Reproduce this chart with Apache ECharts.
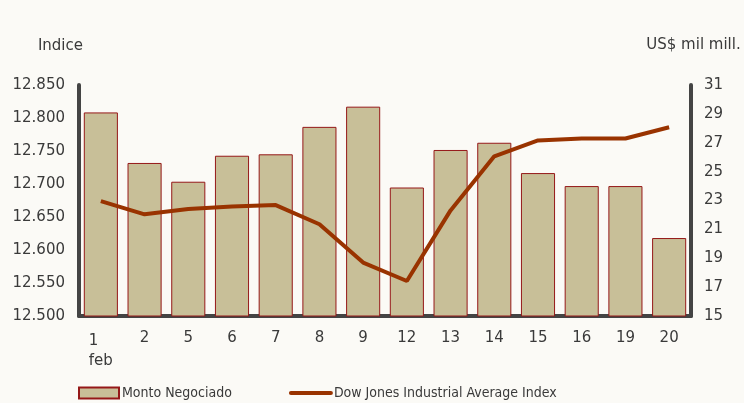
<!DOCTYPE html>
<html>
<head>
<meta charset="utf-8">
<script src="https://cdn.jsdelivr.net/npm/echarts@6/dist/echarts.min.js"></script>
<style>
  html, body { margin: 0; padding: 0; background: #fbfaf6; }
  #chart { width: 744px; height: 403px; }
</style>
</head>
<body>
<div id="chart"></div>
<script>
// days of February
const days = ["1", "2", "5", "6", "7", "8", "9", "12", "13", "14", "15", "16", "19", "20"];
// Monto Negociado, US$ mil mill. (right axis)
const monto = [29.1, 25.6, 24.3, 26.1, 26.2, 28.1, 29.5, 23.9, 26.5, 27.0, 24.9, 24.0, 24.0, 20.4];
// Dow Jones Industrial Average Index (left axis)
const dowJones = [12674, 12654, 12662, 12666, 12668, 12639, 12581, 12553, 12660, 12742, 12766, 12769, 12769, 12786];

const axisColor = "#444444";
const textColor = "#3a3a3a";

const chart = echarts.init(document.getElementById("chart"));

chart.setOption({
  backgroundColor: "#fbfaf6",
  animation: false,
  textStyle: { fontFamily: "DejaVu Sans" },
  legend: {
    left: 78,
    top: 386,
    padding: 0,
    itemWidth: 40,
    itemHeight: 11,
    itemGap: 57,
    textStyle: {
      fontFamily: "'Liberation Sans Narrow', 'Arial Narrow', 'DejaVu Sans Condensed', sans-serif",
      fontSize: 14,
      color: textColor,
      padding: [0, 0, 0, -2],
    },
    data: [
      { name: "Monto Negociado", icon: "rect" },
      {
        name: "Dow Jones Industrial Average Index",
        itemStyle: { opacity: 0 },
        lineStyle: { width: 4, cap: "round" },
      },
    ],
  },
  grid: {
    left: 79,
    right: 53,
    top: 85,
    bottom: 87,
  },
  xAxis: {
    type: "category",
    data: days,
    axisLine: { lineStyle: { color: axisColor, width: 4 } },
    axisTick: { show: false },
    axisLabel: {
      interval: 0,
      margin: 15,
      fontSize: 15,
      color: textColor,
      formatter: (v) => (v === "1" ? "{l|1}\n{c|feb}" : v),
      rich: {
        l: { align: "left", fontSize: 15, color: textColor, lineHeight: 20 },
        c: { align: "center", fontSize: 15, color: textColor, lineHeight: 20 },
      },
    },
  },
  yAxis: [
    {
      type: "value",
      position: "left",
      min: 12500,
      max: 12850,
      interval: 50,
      name: "Indice",
      nameLocation: "end",
      nameGap: 31,
      nameTextStyle: { fontSize: 15, color: textColor, align: "right", padding: [0, -4, 0, 0] },
      axisLine: { show: true, lineStyle: { color: axisColor, width: 4, cap: "round" } },
      axisTick: { show: false },
      splitLine: { show: false },
      axisLabel: {
        margin: 14,
        fontSize: 15,
        color: textColor,
        formatter: (v) => (v / 1000).toFixed(3),
      },
    },
    {
      type: "value",
      position: "right",
      min: 15,
      max: 31,
      interval: 2,
      name: "US$ mil mill.",
      nameLocation: "end",
      nameGap: 32,
      nameTextStyle: { fontSize: 15, color: textColor, padding: [0, 0, 0, 5] },
      axisLine: { show: true, lineStyle: { color: axisColor, width: 4, cap: "round" } },
      axisTick: { show: false },
      splitLine: { show: false },
      axisLabel: { margin: 13, fontSize: 15, color: textColor },
    },
  ],
  series: [
    {
      name: "Monto Negociado",
      type: "bar",
      yAxisIndex: 1,
      data: monto,
      barWidth: "78%",
      itemStyle: {
        color: "#c8bf98",
        borderColor: "#951818",
        borderWidth: 1,
      },
    },
    {
      name: "Dow Jones Industrial Average Index",
      type: "line",
      yAxisIndex: 0,
      data: dowJones,
      symbol: "none",
      z: 5,
      lineStyle: { color: "#993300", width: 4 },
      itemStyle: { color: "#993300" },
    },
  ],
});
</script>
</body>
</html>
